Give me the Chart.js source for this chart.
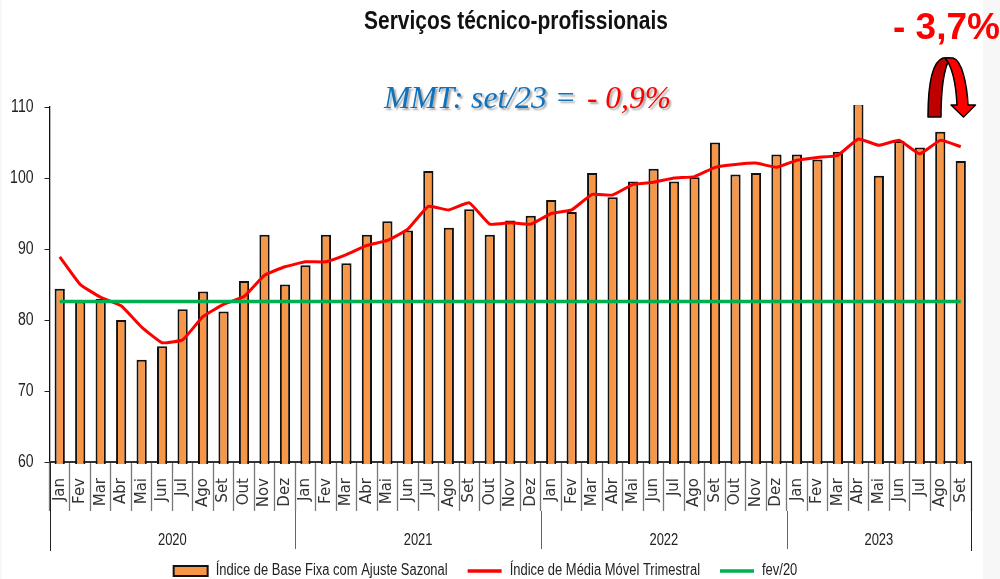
<!DOCTYPE html>
<html><head><meta charset="utf-8">
<style>html,body{margin:0;padding:0;background:#f7f7f7;overflow:hidden}#w{width:1000px;height:579px;position:relative}</style>
<script src="https://cdn.jsdelivr.net/npm/chart.js@4"></script></head>
<body><div id="w"><canvas id="c" width="1000" height="579"></canvas></div>
<script>
const months2020=['Jan','Fev','Mar','Abr','Mai','Jun','Jul','Ago','Set','Out','Nov','Dez'];
const monthLabels=[...months2020,...months2020,...months2020,...months2020.slice(0,9)];
const years=['2020','2021','2022','2023'];
const yearStarts=[0,12,24,36,45];
const yearCenters=[6,18,30,40.5];
const baseFixa=[84.4,82.6,83,80,74.4,76.3,81.5,84,81.2,85.5,92,85,
87.7,92,88,92,93.9,92.6,101,93,95.6,92,94,94.7,
96.9,95.2,100.7,97.3,99.5,101.3,99.5,100.1,105,100.5,100.7,103.3,
103.3,102.6,103.7,110.5,100.3,105.2,104.3,106.5,102.4];
const mediaMovel=[88.9,85,83.2,82,79,76.8,77.2,80.5,82.2,83.3,86.3,87.5,
88.2,88.2,89.2,90.5,91.2,92.8,96,95.5,96.5,93.5,93.7,93.5,
95,95.5,97.7,97.6,99.1,99.4,100,100.2,101.5,101.9,102.1,101.5,
102.5,102.9,103.2,105.5,104.6,105.3,103.4,105.3,104.4];
const fev20=monthLabels.map(()=>82.6);
const seriesNames=['Índice de Base Fixa com Ajuste Sazonal','Índice de Média Móvel Trimestral','fev/20'];
const NARROW='"Liberation Sans Narrow","Liberation Sans"';

// Condense text set in the "narrow" font stack: no condensed face is installed
const canvas=document.getElementById('c');
const g0=canvas.getContext('2d');
const rawFill=g0.fillText.bind(g0),rawMeasure=g0.measureText.bind(g0);
const squeeze=()=>g0.font.includes('Narrow')?(g0.font.startsWith('18px')?0.78:0.81):1;
g0.measureText=t=>{const m=rawMeasure(t),k=squeeze();return k===1?m:{width:m.width*k};};
g0.fillText=(t,x,y,mw)=>{const k=squeeze();
  if(k===1){mw===undefined?rawFill(t,x,y):rawFill(t,x,y,mw);}
  else rawFill(t,x,y,rawMeasure(t).width*k);};

const decor={id:'decor',
 beforeLayout(ch){const L=ch.legend;
  if(L&&!L._fitWrapped){const f=L.fit.bind(L);L.fit=()=>{f();L.height=28;};L._fitWrapped=true;}},
 afterLayout(ch){if(ch.legend)ch.legend.top=543;},
 beforeDraw(ch){const g=ch.ctx;g.save();g.fillStyle='#fff';g.fillRect(2,0,981,579);g.restore();},
 afterDraw(ch){
  const g=ch.ctx,x=ch.scales.x;g.save();
  yearStarts.forEach((s,i)=>{const px=Math.round(x.getPixelForValue(s-0.5))+0.5;const edge=i==0||i==4;
    g.strokeStyle=edge?'#222':'#666';g.lineWidth=1;g.beginPath();g.moveTo(px,edge?462:511);g.lineTo(px,edge?551:549);g.stroke();});
  g.textBaseline='alphabetic';g.textAlign='left';
  g.fillStyle='#111';g.font='bold 26px "Liberation Sans"';
  g.fillText('Serviços técnico-profissionais',364,29,304);
  g.shadowColor='rgba(90,90,90,.55)';g.shadowOffsetX=2;g.shadowOffsetY=2;g.shadowBlur=2;
  g.font='italic 32px "Liberation Serif"';
  g.fillStyle='#0F72BD';g.fillText('MMT: set/23 = ',384,108,200);
  g.fillStyle='#FF0000';g.fillText('- 0,9%',587,108,84);
  g.shadowColor='transparent';g.shadowOffsetX=0;g.shadowOffsetY=0;g.shadowBlur=0;
  g.font='bold 37px "Liberation Sans"';g.fillStyle='#FF0000';
  g.fillText('- 3,7%',893,39,107);
  g.lineWidth=1.5;g.strokeStyle='#000';g.lineJoin='round';
  g.fillStyle='#C00000';g.beginPath();
  g.moveTo(928,117);g.bezierCurveTo(928,90,931,62,943,58);g.lineTo(950,58);
  g.bezierCurveTo(944,68,941,90,941,117);g.closePath();g.fill();g.stroke();
  g.fillStyle='#FF0000';g.beginPath();
  g.moveTo(945,58);g.lineTo(953,58);g.bezierCurveTo(962,60,967,85,968,105);g.lineTo(975.5,105);
  g.lineTo(963.5,117);g.lineTo(951,105);g.lineTo(957,105);g.bezierCurveTo(956,85,952,66,945,58);
  g.closePath();g.fill();g.stroke();
  g.restore();
 }};

new Chart(canvas,{
 data:{labels:monthLabels,datasets:[
  {type:'bar',label:seriesNames[0],data:baseFixa,backgroundColor:'#F79646',borderColor:'#111',borderWidth:2,borderSkipped:false,barPercentage:0.5,categoryPercentage:1,order:3,xAxisID:'x',yAxisID:'y',clip:{top:2,left:0,right:0,bottom:2}},
  {type:'line',label:seriesNames[1],data:mediaMovel,borderColor:'#FF0000',backgroundColor:'#FF0000',borderWidth:3,pointRadius:0,tension:0.12,order:2,xAxisID:'x',yAxisID:'y'},
  {type:'line',label:seriesNames[2],data:fev20,borderColor:'#00B050',backgroundColor:'#00B050',borderWidth:3.5,pointRadius:0,order:1,xAxisID:'x',yAxisID:'y'}
 ]},
 options:{responsive:false,animation:false,
  layout:{padding:{top:107,left:0,right:29,bottom:0}},
  plugins:{title:{display:false},tooltip:{enabled:false},
   legend:{display:true,position:'bottom',
    labels:{usePointStyle:true,pointStyleWidth:34,boxHeight:10,boxWidth:34,padding:20,color:'#222',font:{family:NARROW,size:16},
     generateLabels(ch){return ch.data.datasets.map((d,i)=>({text:d.label,datasetIndex:i,
       fillStyle:i==0?'#F79646':d.borderColor,strokeStyle:i==0?'#111':d.borderColor,lineWidth:i==0?2:3.5,pointStyle:i==0?'rect':'line',fontColor:'#222'}));}}}},
  scales:{
   y:{min:60,max:110,position:'left',afterFit(s){s.width=49.5;},
    border:{color:'#111',width:1.3},
    grid:{drawOnChartArea:false,tickLength:5,color:'#222',tickColor:'#222'},
    ticks:{stepSize:10,padding:11,color:'#222',font:{family:NARROW,size:18}}},
   x:{type:'category',position:'bottom',weight:1,afterFit(s){s.height=49;},
    border:{color:'#333',width:2},
    grid:{drawOnChartArea:false,offset:true,tickLength:49,tickColor:'#777',tickWidth:1.3},
    ticks:{minRotation:90,maxRotation:90,autoSkip:false,padding:-33,color:'#333',font:{family:'"DejaVu Sans"',size:15}}},
   x2:{type:'linear',position:'bottom',weight:2,min:0,max:45,afterFit(s){s.height=40;},
    border:{display:false},grid:{display:false,drawTicks:false},
    afterBuildTicks(s){s.ticks=yearCenters.map(v=>({value:v}));},
    ticks:{autoSkip:false,maxRotation:0,padding:20,color:'#222',font:{family:NARROW,size:16},
     callback(v){return years[yearCenters.indexOf(v)];}}}
  }},
 plugins:[decor]});
</script></body></html>
